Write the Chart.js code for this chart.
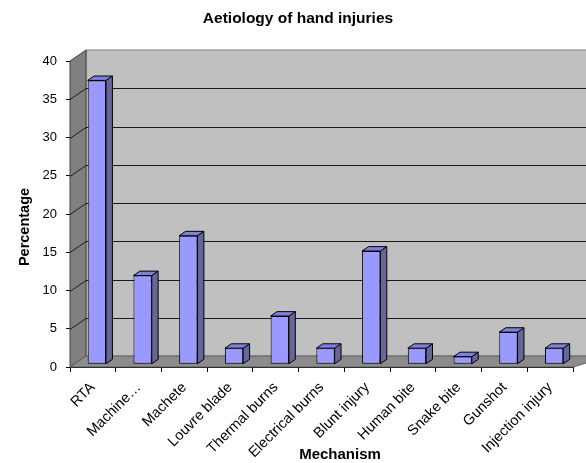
<!DOCTYPE html>
<html>
<head>
<meta charset="utf-8">
<script src="https://cdn.jsdelivr.net/npm/chart.js@4.4.0/dist/chart.umd.min.js"></script>
<style>
html, body { margin: 0; padding: 0; background: #fff; }
</style>
</head>
<body>
<canvas id="chart" width="586" height="463" style="display:block;width:586px;height:463px"></canvas>
<script>
var categories = ["RTA", "Machine\u2026", "Machete", "Louvre blade", "Thermal burns", "Electrical burns",
    "Blunt injury", "Human bite", "Snake bite", "Gunshot", "Injection injury"];
var percentages = [37.1, 11.6, 16.8, 2.1, 6.3, 2.1, 14.8, 2.1, 1.0, 4.2, 2.1];
var yMin = 0;
var yMax = 40;
var yStep = 5;
var chartTitle = 'Aetiology of hand injuries';
var xTitle = 'Mechanism';
var yTitle = 'Percentage';

// fake 3d depth of the plot (back wall offset) and where bars sit in it
var DX = 16, DY = -11;
var BAR_SHIFT = 0.25, BAR_DEPTH = 0.4;
var FONT = '"Liberation Sans", Arial, sans-serif';

function poly(ctx, pts, fill, stroke) {
    ctx.beginPath();
    ctx.moveTo(pts[0][0], pts[0][1]);
    for (var i = 1; i < pts.length; i++) ctx.lineTo(pts[i][0], pts[i][1]);
    ctx.closePath();
    if (fill) { ctx.fillStyle = fill; ctx.fill(); }
    if (stroke) { ctx.strokeStyle = stroke; ctx.lineWidth = 1; ctx.stroke(); }
}

function text(ctx, str, x, y, font, angle) {
    ctx.save();
    ctx.fillStyle = '#000';
    ctx.font = font;
    ctx.textAlign = 'center';
    ctx.textBaseline = 'middle';
    ctx.translate(x, y);
    if (angle) ctx.rotate(angle);
    ctx.fillText(str, 0, 0);
    ctx.restore();
}

var walls = {
    id: 'walls',
    beforeDatasetsDraw: function(chart) {
        var ctx = chart.ctx, a = chart.chartArea, y = chart.scales.y;
        var L = a.left, R = a.right, T = a.top, B = a.bottom;
        ctx.save();
        // back wall
        poly(ctx, [[L + DX, T + DY], [R + DX, T + DY], [R + DX, B + DY], [L + DX, B + DY]], '#c0c0c0', '#808080');
        // left wall
        poly(ctx, [[L, T], [L + DX, T + DY], [L + DX, B + DY], [L, B]], '#808080', '#404040');
        // floor
        poly(ctx, [[L, B], [L + DX, B + DY], [R + DX + 20, B + DY], [R, B]], '#8c8c8c', '#606060');
        // gridlines on walls
        ctx.strokeStyle = '#1a1a1a';
        ctx.lineWidth = 1;
        for (var v = yMin + yStep; v < yMax; v += yStep) {
            var py = Math.round(y.getPixelForValue(v)) + 0.5;
            ctx.beginPath();
            ctx.moveTo(L, py);
            ctx.lineTo(L + DX, py + DY);
            ctx.lineTo(R + DX + 20, py + DY);
            ctx.stroke();
        }
        ctx.restore();

        // bars are drawn a bit into the depth
        ctx.save();
        ctx.translate(DX * BAR_SHIFT, DY * BAR_SHIFT);
    },
    afterDatasetsDraw: function(chart) {
        var ctx = chart.ctx;
        var ddx = DX * BAR_DEPTH, ddy = DY * BAR_DEPTH;
        chart.getDatasetMeta(0).data.forEach(function(bar) {
            var l = bar.x - bar.width / 2, r = bar.x + bar.width / 2;
            poly(ctx, [[r, bar.y], [r + ddx, bar.y + ddy], [r + ddx, bar.base + ddy], [r, bar.base]], '#666699', '#000');
            poly(ctx, [[l, bar.y], [l + ddx, bar.y + ddy], [r + ddx, bar.y + ddy], [r, bar.y]], '#7f7fdd', '#000');
        });
        ctx.restore();
    },
    afterDraw: function(chart) {
        var ctx = chart.ctx;
        text(ctx, chartTitle, 298, 19, 'bold 15.5px ' + FONT);
        text(ctx, xTitle, 340, 455, 'bold 15px ' + FONT);
        text(ctx, yTitle, 25, 227, 'bold 14.5px ' + FONT, -Math.PI / 2);
    }
};

var ctx = document.getElementById('chart').getContext('2d');

var myChart = new Chart(ctx, {
    type: 'bar',
    data: {
        labels: categories,
        datasets: [{
            data: percentages,
            backgroundColor: '#9999ff',
            borderColor: '#000',
            borderWidth: 1,
            borderSkipped: false,
            categoryPercentage: 1,
            barPercentage: 0.4
        }]
    },
    options: {
        responsive: false,
        animation: false,
        layout: { padding: { left: 0, right: 13, top: 61, bottom: 0 } },
        plugins: {
            legend: { display: false },
            tooltip: { enabled: false },
            title: { display: false }
        },
        scales: {
            x: {
                grid: { drawOnChartArea: false, tickLength: 5, color: '#000' },
                border: { display: true, color: '#000' },
                ticks: {
                    color: '#000',
                    font: { family: FONT, size: 14.5 },
                    maxRotation: 45,
                    minRotation: 45,
                    autoSkip: false,
                    padding: 7
                },
                afterFit: function(scale) { scale.height = 96; }
            },
            y: {
                min: yMin,
                max: yMax,
                ticks: {
                    stepSize: yStep,
                    color: '#000',
                    font: { family: FONT, size: 13 },
                    padding: 9
                },
                grid: { drawOnChartArea: false, tickLength: 4, color: '#000' },
                border: { display: true, color: '#000' },
                afterFit: function(scale) { scale.width = 70; }
            }
        }
    },
    plugins: [walls]
});
</script>
</body>
</html>
